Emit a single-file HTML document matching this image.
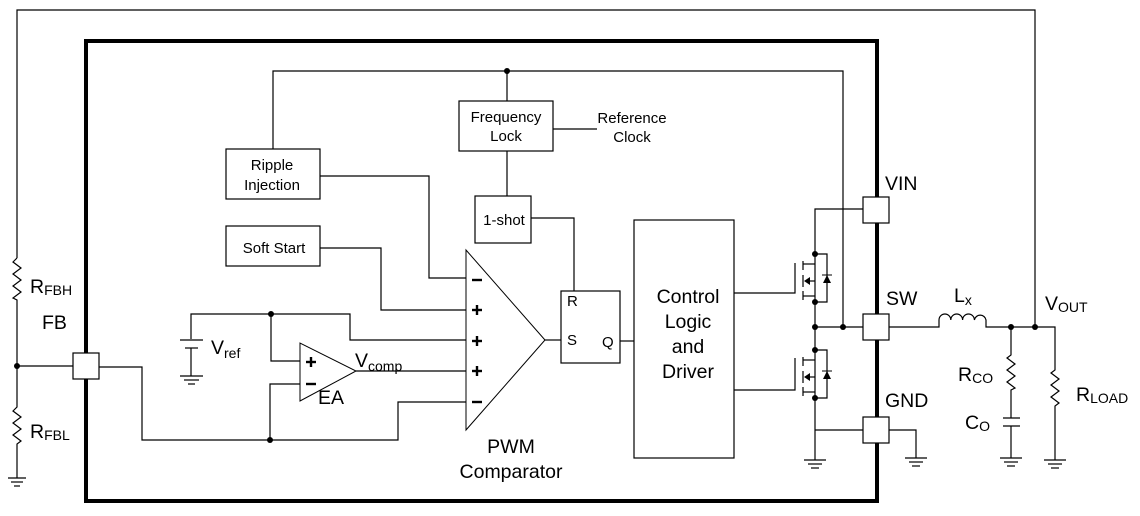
<!DOCTYPE html>
<html><head><style>
html,body{margin:0;padding:0;background:#fff;}
svg{display:block;}
text{font-family:"Liberation Sans",Arial,sans-serif;fill:#000;}
.b{font-size:19.5px;}
.s{font-size:15px;}
</style></head><body>
<svg width="1140" height="516" viewBox="0 0 1140 516" xmlns="http://www.w3.org/2000/svg">
<g fill="none" stroke="#000" stroke-width="1.2">
<rect x="86" y="41" width="791" height="460" stroke-width="4"/>
<polyline points="17,258 17,10 1035,10 1035,327"/>
<polyline points="17,258 13,262 21,268 13,274 21,280 13,286 21,292 13,298 17,300 17,407 13,411 21,417 13,423 21,429 13,435 21,441 17,444 17,478"/>
<line x1="8" y1="478" x2="26" y2="478"/><line x1="11" y1="482" x2="23" y2="482"/><line x1="14" y1="486" x2="20" y2="486"/>
<line x1="17" y1="366" x2="73" y2="366"/>
<rect x="73" y="353" width="26" height="26" fill="#fff"/>
<polyline points="99,367 142,367 142,440 398,440 398,402 466,402"/>
<polyline points="191,339 191,314 350,314 350,340 466,340"/>
<line x1="180" y1="340" x2="203" y2="340"/><line x1="185" y1="348" x2="198" y2="348"/>
<line x1="191" y1="348" x2="191" y2="376"/>
<line x1="180" y1="376" x2="203" y2="376"/><line x1="184" y1="380" x2="199" y2="380"/><line x1="188" y1="384" x2="195" y2="384"/>
<polyline points="271,314 271,361 300,361"/>
<polyline points="300,384 270,384 270,440"/>
<polygon points="300,343 300,401 356,371" stroke-width="1"/>
<line x1="356" y1="371" x2="466" y2="371"/>
<rect x="226" y="226" width="94" height="40"/>
<polyline points="320,248 381,248 381,310 466,310"/>
<rect x="226" y="149" width="94" height="50"/>
<polyline points="320,176 429,176 429,278 466,278"/>
<polyline points="273,149 273,71 843,71 843,327"/>
<rect x="459" y="101" width="94" height="50"/>
<line x1="507" y1="71" x2="507" y2="101"/>
<line x1="553" y1="129" x2="597" y2="129"/>
<line x1="507" y1="151" x2="507" y2="196"/>
<rect x="475" y="196" width="56" height="47"/>
<polyline points="531,218 574,218 574,291"/>
<polygon points="466,250 466,430 545,340" stroke-width="1"/>
<line x1="545" y1="340" x2="561" y2="340"/>
<rect x="561" y="291" width="59" height="72"/>
<line x1="620" y1="341" x2="634" y2="341"/>
<rect x="634" y="220" width="100" height="238"/>
<polyline points="863,209 815,209 815,327"/>
<polyline points="734,293 795,293 795,263"/>
<line x1="803" y1="261" x2="803" y2="270"/><line x1="803" y1="275" x2="803" y2="287"/><line x1="803" y1="291" x2="803" y2="300"/>
<polyline points="803,264 815,264"/><polyline points="803,296 815,296"/>
<line x1="806" y1="281" x2="815" y2="281"/>
<polyline points="815,254 827,254 827,302 815,302"/>
<polyline points="815,327 815,460"/>
<polyline points="734,390 795,390 795,358"/>
<line x1="803" y1="357" x2="803" y2="366"/><line x1="803" y1="371" x2="803" y2="383"/><line x1="803" y1="387" x2="803" y2="396"/>
<polyline points="803,360 815,360"/><polyline points="803,392 815,392"/>
<line x1="806" y1="377" x2="815" y2="377"/>
<polyline points="815,350 827,350 827,398 815,398"/>
<line x1="815" y1="430" x2="863" y2="430"/>
<line x1="804" y1="460" x2="826" y2="460"/><line x1="808" y1="464" x2="822" y2="464"/><line x1="811" y1="468" x2="819" y2="468"/>
<polyline points="889,430 916,430 916,458"/>
<line x1="905" y1="458" x2="927" y2="458"/><line x1="909" y1="462" x2="923" y2="462"/><line x1="912" y1="466" x2="920" y2="466"/>
<line x1="815" y1="327" x2="863" y2="327"/>
<rect x="863" y="197" width="26" height="26" fill="#fff"/>
<rect x="863" y="314" width="26" height="26" fill="#fff"/>
<rect x="863" y="417" width="26" height="26" fill="#fff"/>
<path d="M889,327 H939 V320 A5.9,6 0 0 1 950.8,320 A5.9,6 0 0 1 962.6,320 A5.9,6 0 0 1 974.4,320 A5.9,6 0 0 1 986,320 V327 H1055 V370 L1051,373 L1059,379 L1051,385 L1059,391 L1051,397 L1059,403 L1055,406 V460"/>
<line x1="1044" y1="460" x2="1066" y2="460"/><line x1="1048" y1="464" x2="1062" y2="464"/><line x1="1051" y1="468" x2="1059" y2="468"/>
<polyline points="1011,327 1011,355 1007,358 1015,364 1007,370 1015,376 1007,382 1015,388 1011,390 1011,418"/>
<line x1="1003" y1="418" x2="1020" y2="418"/><line x1="1003" y1="426" x2="1020" y2="426"/>
<line x1="1011" y1="426" x2="1011" y2="458"/>
<line x1="1000" y1="458" x2="1022" y2="458"/><line x1="1004" y1="462" x2="1018" y2="462"/><line x1="1007" y1="466" x2="1015" y2="466"/>
</g>
<g fill="#000">
<circle cx="17" cy="366" r="3"/><circle cx="271" cy="314" r="3"/><circle cx="270" cy="440" r="3"/>
<circle cx="507" cy="71" r="3"/>
<circle cx="815" cy="254" r="3"/><circle cx="815" cy="302" r="3"/><circle cx="815" cy="327" r="3"/><circle cx="843" cy="327" r="3"/>
<circle cx="815" cy="350" r="3"/><circle cx="815" cy="398" r="3"/>
<circle cx="1011" cy="327" r="3"/><circle cx="1035" cy="327" r="3"/>
<polygon points="804,281 810,277 810,285"/><polygon points="804,377 810,373 810,381"/>
<polygon points="827,275 823,283 831,283"/><line x1="822" y1="275" x2="832" y2="275" stroke="#000"/>
<polygon points="827,371 823,379 831,379"/><line x1="822" y1="371" x2="832" y2="371" stroke="#000"/>
</g>
<g stroke="#000" stroke-width="2.4">
<line x1="472" y1="280" x2="482" y2="280"/>
<line x1="472" y1="310" x2="482" y2="310"/><line x1="477" y1="305" x2="477" y2="315"/>
<line x1="472" y1="341" x2="482" y2="341"/><line x1="477" y1="336" x2="477" y2="346"/>
<line x1="472" y1="371" x2="482" y2="371"/><line x1="477" y1="366" x2="477" y2="376"/>
<line x1="472" y1="402" x2="482" y2="402"/>
<line x1="306" y1="362" x2="316" y2="362"/><line x1="311" y1="357" x2="311" y2="367"/>
<line x1="306" y1="384" x2="316" y2="384"/>
</g>
<g stroke="#000" stroke-width="4"><line x1="86" y1="41" x2="86" y2="353"/><line x1="86" y1="379" x2="86" y2="501"/>
<line x1="877" y1="41" x2="877" y2="197"/><line x1="877" y1="223" x2="877" y2="314"/><line x1="877" y1="340" x2="877" y2="417"/><line x1="877" y1="443" x2="877" y2="503"/></g>
<text class="s" x="506" y="122" text-anchor="middle">Frequency</text>
<text class="s" x="506" y="141" text-anchor="middle">Lock</text>
<text class="s" x="632" y="123" text-anchor="middle">Reference</text>
<text class="s" x="632" y="142" text-anchor="middle">Clock</text>
<text class="s" x="272" y="170" text-anchor="middle">Ripple</text>
<text class="s" x="272" y="190" text-anchor="middle">Injection</text>
<text class="s" x="274" y="253" text-anchor="middle">Soft Start</text>
<text class="s" x="504" y="225" text-anchor="middle">1-shot</text>
<text class="s" x="567" y="306">R</text>
<text class="s" x="567" y="345">S</text>
<text class="s" x="602" y="347">Q</text>
<text class="b" x="688" y="303" text-anchor="middle">Control</text>
<text class="b" x="688" y="328" text-anchor="middle">Logic</text>
<text class="b" x="688" y="353" text-anchor="middle">and</text>
<text class="b" x="688" y="378" text-anchor="middle">Driver</text>
<text class="b" x="511" y="453" text-anchor="middle">PWM</text>
<text class="b" x="511" y="478" text-anchor="middle">Comparator</text>
<text class="b" x="318" y="404">EA</text>
<text class="b" x="355" y="367">V<tspan font-size="14" dy="4">comp</tspan></text>
<text class="b" x="211" y="354">V<tspan font-size="14" dy="4">ref</tspan></text>
<text class="b" x="30" y="293">R<tspan font-size="14" dy="2">FBH</tspan></text>
<text class="b" x="42" y="329">FB</text>
<text class="b" x="30" y="438">R<tspan font-size="14" dy="2">FBL</tspan></text>
<text class="b" x="885" y="190">VIN</text>
<text class="b" x="886" y="305">SW</text>
<text class="b" x="885" y="407">GND</text>
<text class="b" x="954" y="302">L<tspan font-size="14" dy="3">x</tspan></text>
<text class="b" x="1045" y="310">V<tspan font-size="14" dy="2">OUT</tspan></text>
<text class="b" x="958" y="381">R<tspan font-size="14" dy="2">CO</tspan></text>
<text class="b" x="965" y="429">C<tspan font-size="14" dy="2">O</tspan></text>
<text class="b" x="1076" y="401">R<tspan font-size="14" dy="2">LOAD</tspan></text>
</svg>
</body></html>
